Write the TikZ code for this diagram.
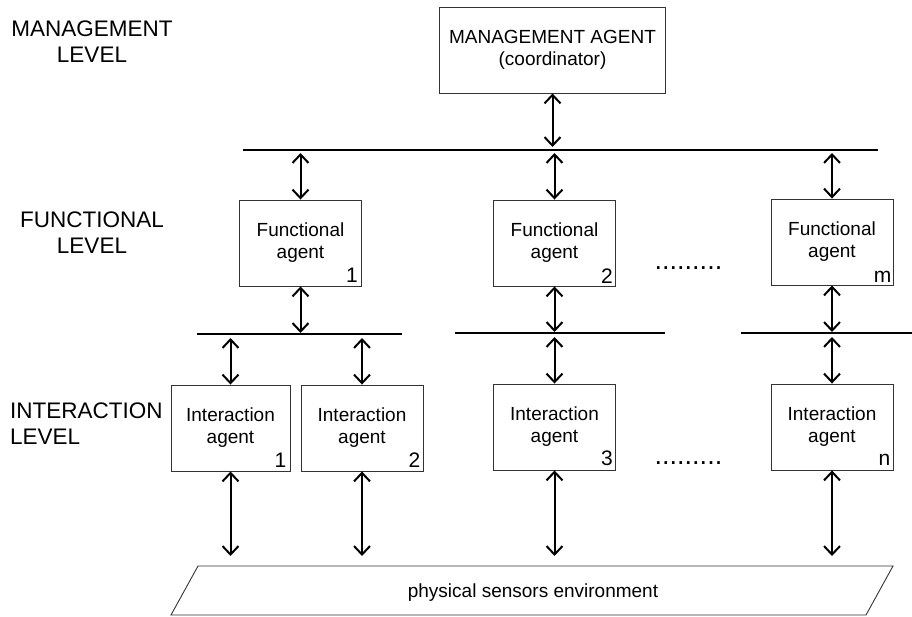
\documentclass[tikz,border=0pt]{standalone}
\usepackage{fontspec}
\setmainfont{Liberation Sans}
\usetikzlibrary{arrows.meta}
\begin{document}
\begin{tikzpicture}[x=1pt,y=-1pt,
  agentbox/.style={draw=black!80, line width=0.9pt, minimum width=122pt,
    minimum height=86pt, inner sep=0pt, align=center,
    font=\fontsize{19}{22}\selectfont},
  levellabel/.style={align=center, inner sep=0pt,
    font=\fontsize{22.5}{26}\selectfont},
  bus/.style={line width=2.2pt},
  link/.style={line width=2pt,
    {Straight Barb[length=8.5pt,width=16pt]}-{Straight Barb[length=8.5pt,width=16pt]}},
  idx/.style={anchor=base east, inner sep=0pt, font=\fontsize{21}{22}\selectfont},
  etc/.style={anchor=base west, inner sep=0pt, font=\fontsize{27}{30}\selectfont},
  envtext/.style={anchor=base, inner sep=0pt, font=\fontsize{19}{22}\selectfont}]
\useasboundingbox (0,0) rectangle (912,617);

% level captions
\node[levellabel] (lvM) at (92,42) {MANAGEMENT\\LEVEL};
\node[levellabel] (lvF) at (92,232.5) {FUNCTIONAL\\LEVEL};
\node[levellabel, align=left, anchor=north west] (lvI) at (10,403) {INTERACTION\\LEVEL};

% agents
\node[agentbox, minimum width=226pt] (mgr) at (552.5,50) {MANAGEMENT AGENT\\(coordinator)};
\node[agentbox] (f1) at (300.5,243) {Functional\\agent};
\node[agentbox] (f2) at (554.5,243) {Functional\\agent};
\node[agentbox] (fm) at (832,242) {Functional\\agent};
\node[agentbox, minimum width=119pt] (i1) at (230.5,428) {Interaction\\agent};
\node[agentbox] (i2) at (362,428) {Interaction\\agent};
\node[agentbox] (i3) at (554.5,427) {Interaction\\agent};
\node[agentbox] (iN) at (832,427) {Interaction\\agent};

% agent indices
\node[idx] (f1n) at ([shift={(-4,-4)}]f1.south east) {1};
\node[idx] (f2n) at ([shift={(-3,-3)}]f2.south east) {2};
\node[idx] (fmn) at ([shift={(-2,-3)}]fm.south east) {m};
\node[idx] (i1n) at ([shift={(-4,-4)}]i1.south east) {1};
\node[idx] (i2n) at ([shift={(-3,-4)}]i2.south east) {2};
\node[idx] (i3n) at ([shift={(-3,-5)}]i3.south east) {3};
\node[idx] (iNn) at ([shift={(-3,-5)}]iN.south east) {n};

% continuation dots
\node[etc] (fdots) at (654.5,269.5) {.........};
\node[etc] (idots) at (654.5,464) {.........};

% buses
\coordinate (b1w) at (243,150);
\coordinate (b1e) at (878,150);
\coordinate (b2aw) at (197,334);
\coordinate (b2ae) at (402,334);
\coordinate (b2bw) at (455,333);
\coordinate (b2be) at (665,333);
\coordinate (b2cw) at (741,333);
\coordinate (b2ce) at (912,333);
\draw[bus] (b1w) -- (b1e);
\draw[bus] (b2aw) -- (b2ae);
\draw[bus] (b2bw) -- (b2be);
\draw[bus] (b2cw) -- (b2ce);

% management <-> top bus <-> functional agents
\draw[link, shorten >=3pt] (mgr.south) -- (mgr.south |- b1w);
\draw[link, shorten <=3pt] (f1.north |- b1w) -- (f1.north);
\draw[link, shorten <=3pt] (f2.north |- b1w) -- (f2.north);
\draw[link, shorten <=3pt] (fm.north |- b1w) -- (fm.north);

% functional agents <-> local buses
\draw[link, shorten >=1pt] (f1.south) -- (f1.south |- b2aw);
\draw[link, shorten >=1pt] (f2.south) -- (f2.south |- b2bw);
\draw[link, shorten >=1pt] (fm.south) -- (fm.south |- b2cw);

% local buses <-> interaction agents
\draw[link, shorten <=4pt] (i1.north |- b2aw) -- (i1.north);
\draw[link, shorten <=4pt] (i2.north |- b2aw) -- (i2.north);
\draw[link, shorten <=4pt] (i3.north |- b2bw) -- (i3.north);
\draw[link, shorten <=4pt] (iN.north |- b2cw) -- (iN.north);

% environment
\coordinate (p1) at (198,566);
\coordinate (p2) at (893,566);
\coordinate (p3) at (866,615);
\coordinate (p4) at (171,615);
\draw[draw=black!80, line width=0.9pt] (p1) -- (p2) -- (p3) -- (p4) -- cycle;
\node[envtext] (env) at (533,597) {physical sensors environment};

\coordinate (gnd) at (0,556);
\draw[link] (i1.south) -- (i1.south |- gnd);
\draw[link] (i2.south) -- (i2.south |- gnd);
\draw[link] (i3.south) -- (i3.south |- gnd);
\draw[link] (iN.south) -- (iN.south |- gnd);
\end{tikzpicture}
\end{document}
